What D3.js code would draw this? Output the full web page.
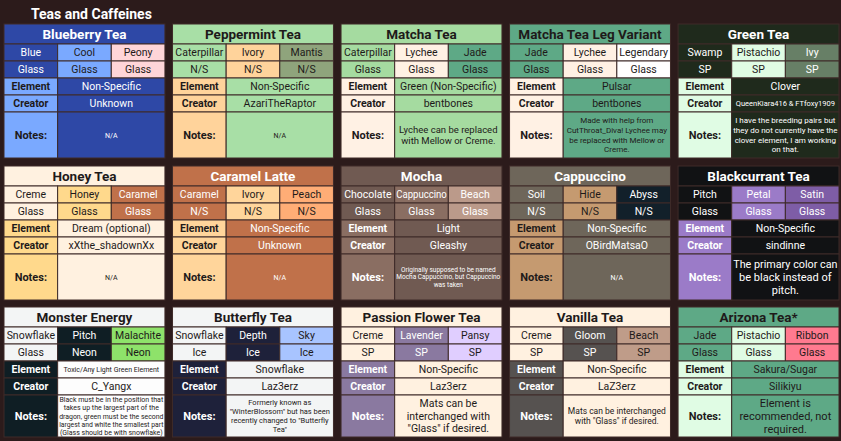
<!DOCTYPE html>
<html><head><meta charset="utf-8">
<script src="https://cdn.jsdelivr.net/npm/d3@7"></script>
<style>body{margin:0;background:#2c1b1b}svg{display:block}text{font-family:Roboto,"Noto Sans",sans-serif}</style>
</head><body><svg id="c" width="841" height="441"></svg>
<script>
const teaNames=["Blueberry Tea","Peppermint Tea","Matcha Tea","Matcha Tea Leg Variant","Green Tea","Honey Tea","Caramel Latte","Mocha","Cappuccino","Blackcurrant Tea","Monster Energy","Butterfly Tea","Passion Flower Tea","Vanilla Tea","Arizona Tea*"];
const colorNames=[["Blue","Cool","Peony"],["Caterpillar","Ivory","Mantis"],["Caterpillar","Lychee","Jade"],["Jade","Lychee","Legendary"],["Swamp","Pistachio","Ivy"],["Creme","Honey","Caramel"],["Caramel","Ivory","Peach"],["Chocolate","Cappuccino","Beach"],["Soil","Hide","Abyss"],["Pitch","Petal","Satin"],["Snowflake","Pitch","Malachite"],["Snowflake","Depth","Sky"],["Creme","Lavender","Pansy"],["Creme","Gloom","Beach"],["Jade","Pistachio","Ribbon"]];
const materials=[["Glass","Glass","Glass"],["N/S","N/S","N/S"],["Glass","Glass","Glass"],["Glass","Glass","Glass"],["SP","SP","SP"],["Glass","Glass","Glass"],["N/S","N/S","N/S"],["Glass","Glass","Glass"],["N/S","N/S","N/S"],["Glass","Glass","Glass"],["Glass","Neon","Neon"],["Ice","Ice","Ice"],["SP","SP","SP"],["SP","SP","SP"],["Glass","Glass","Glass"]];
const elements=["Non-Specific","Non-Specific","Green (Non-Specific)","Pulsar","Clover","Dream (optional)","Non-Specific","Light","Non-Specific","Non-Specific","Toxic/Any Light Green Element","Snowflake","Non-Specific","Non-Specific","Sakura/Sugar"];
const creators=["Unknown","AzariTheRaptor","bentbones","bentbones","QueenKiara416 & FTfoxy1909","xXthe_shadownXx","Unknown","Gleashy","OBirdMatsaO","sindinne","C_Yangx","Laz3erz","Laz3erz","LaZ3erz","Silikiyu"];
const notes=[["N/A"],["N/A"],["Lychee can be replaced","with Mellow or Creme."],["Made with help from","CutThroat_Diva! Lychee may","be replaced with Mellow or","Creme."],["I have the breeding pairs but","they do not currently have the","clover element, I am working","on that."],["N/A"],["N/A"],["Originally supposed to be named","Mocha Cappuccino, but Cappuccino","was taken"],["N/A"],["The primary color can","be black instead of","pitch."],["Black must be in the position that","takes up the largest part of the","dragon, green must be the second","largest and white the smallest part","(Glass should be with snowflake)"],["Formerly known as","\"WinterBlossom\" but has been","recently changed to \"Butterfly","Tea\""],["Mats can be","interchanged with","\"Glass\" if desired."],["Mats can be interchanged","with \"Glass\" if desired."],["Element is","recommended, not","required."]];
// styles
const D="#1e1a1a",W="#ffffff";
const colBg=[["#2e48a6","#7aa9ff","#ffd5d8"],["#a8dfa6","#ffd39b","#8fa47c"],["#a5dba0","#fff1e4","#5ea986"],["#5ea986","#fff1e4","#ffffff"],["#1f2a1c","#e0fce4","#677f66"],["#fff1e0","#ffd98c","#c0714a"],["#c0714a","#ffd59b","#ffad76"],["#705a52","#8a6e62","#bb9a8a"],["#6e665a","#c59a70","#12202a"],["#111214","#9b7bc8","#7e5da6"],["#f3f5f5","#0f1e24","#8ee26a"],["#f3f5f5","#1e213a","#a8c4ff"],["#fff1e0","#8a79a0","#e0ceff"],["#fff1e0","#565250","#bf9c89"],["#5ea986","#e0fce4","#ff7a8f"]];
const colFg=[[W,D,D],[D,D,D],[D,D,D],[D,D,D],[W,D,W],[D,D,W],[W,D,D],[W,W,W],[W,D,W],[W,W,W],[D,W,D],[D,W,D],[D,W,D],[D,W,D],[D,D,D]];
const labelBg=["#7aa9ff","#ffd39b","#fff1e4","#fff1e4","#e0fce4","#ffd98c","#ffd59b","#8a6e62","#c59a70","#9b7bc8","#0f1e24","#1e213a","#8a79a0","#565250","#e0fce4"];
const labelFg=[D,D,D,D,D,D,D,W,D,W,W,W,W,W,D];
const valBg=["#2e48a6","#a8dfa6","#a5dba0","#5ea986","#1f2a1c","#fff1e0","#c0714a","#705a52","#6e665a","#111214","#fdfdfd","#f3f5f5","#fff1e0","#fff1e0","#5ea986"];
const valFg=[W,D,D,D,W,D,W,W,W,W,D,D,D,D,D];
const noteSize=[7,7,9.5,8,8,7,7,6.5,7,11,7,7.5,10.5,8.5,11];
const elemSize=[10.5,10.5,10.5,10.5,10.5,10.5,10.5,10.5,10.5,10.5,7,10.5,10.5,10.5,10.5];
const creatorSize=[10.5,10.5,10.5,10.5,7.5,10.5,10.5,10.5,10.5,10.5,10.5,10.5,10.5,10.5,10.5];

const svg=d3.select("#c");
svg.append("text").attr("x",31).attr("y",19).attr("fill","#fff").attr("font-weight","bold").attr("font-size",14).text("Teas and Caffeines");
const xs=d3.scaleBand().domain(d3.range(5)).range([4,839]).paddingInner(0.045);
const ys=[24,166,307];
const cw=xs.bandwidth();
const rowH=[20,17,17,17,17];
const cardH=[134,134,130];
const stroke="#3e2b29";
teaNames.forEach((name,i)=>{
  const g=svg.append("g").attr("transform",`translate(${xs(i%5)},${ys[Math.floor(i/5)]})`);
  const H=cardH[Math.floor(i/5)];
  const c3=cw/3;
  function cell(x,y,w,h,bg,fg,lines,fs,bold){
    g.append("rect").attr("x",x).attr("y",y).attr("width",w).attr("height",h).attr("fill",bg).attr("stroke",stroke).attr("stroke-width",1);
    const lh=fs*1.2, n=lines.length;
    lines.forEach((t,k)=>{
      const tx=g.append("text").attr("x",x+w/2).attr("y",y+h/2+(k-(n-1)/2)*lh).attr("dy","0.36em").attr("text-anchor","middle").attr("fill",fg).attr("font-size",fs).attr("font-weight",bold?"bold":"normal").text(t);
      const L=tx.node().getComputedTextLength();
      if(L>w-3) tx.attr("textLength",w-3).attr("lengthAdjust","spacingAndGlyphs");
    });
  }
  let y=0;
  cell(0,y,cw,rowH[0],colBg[i][0],colFg[i][0],[name],13.5,true); y+=rowH[0];
  for(let k=0;k<3;k++) cell(k*c3,y,c3,rowH[1],colBg[i][k],colFg[i][k],[colorNames[i][k]],10.5,false); y+=rowH[1];
  for(let k=0;k<3;k++) cell(k*c3,y,c3,rowH[2],colBg[i][k],colFg[i][k],[materials[i][k]],10.5,false); y+=rowH[2];
  cell(0,y,c3,rowH[3],labelBg[i],labelFg[i],["Element"],10.5,true);
  cell(c3,y,cw-c3,rowH[3],valBg[i],valFg[i],[elements[i]],elemSize[i],false); y+=rowH[3];
  cell(0,y,c3,rowH[4],labelBg[i],labelFg[i],["Creator"],10.5,true);
  cell(c3,y,cw-c3,rowH[4],valBg[i],valFg[i],[creators[i]],creatorSize[i],false); y+=rowH[4];
  cell(0,y,c3,H-y,labelBg[i],labelFg[i],["Notes:"],11,true);
  cell(c3,y,cw-c3,H-y,valBg[i],valFg[i],notes[i],noteSize[i],false);
});
</script></body></html>
